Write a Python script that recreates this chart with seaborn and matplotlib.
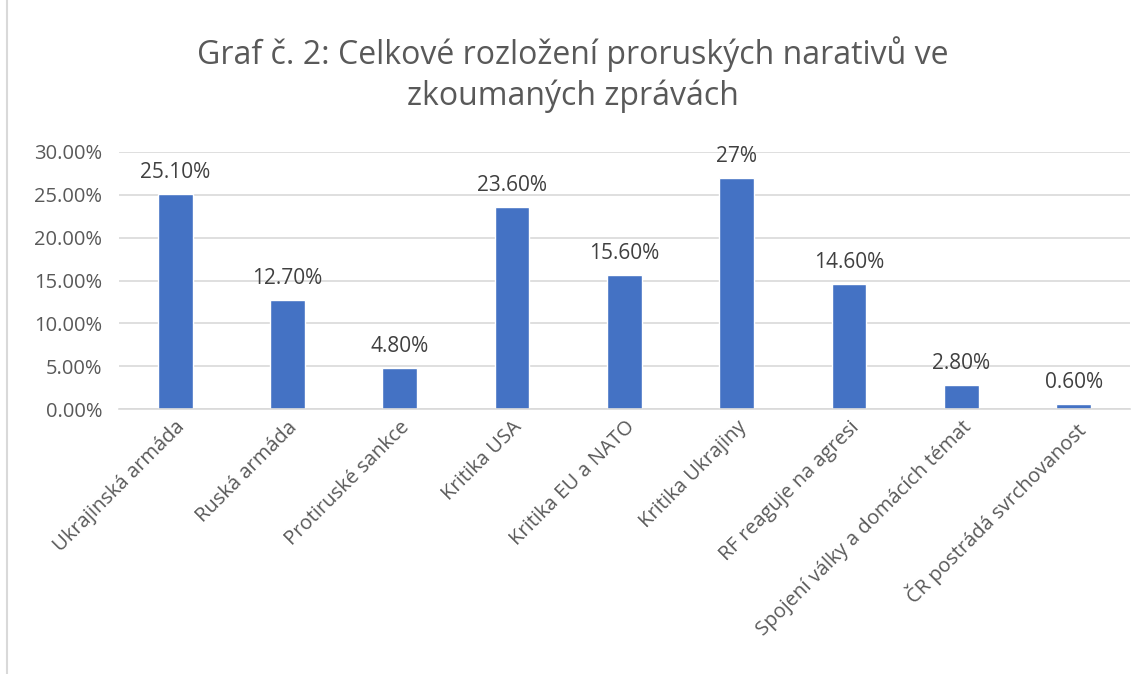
import matplotlib
matplotlib.use("Agg")
import matplotlib.pyplot as plt
import matplotlib.ticker as mtick
import seaborn as sns
import pandas as pd

# -------------------------
# Data
# -------------------------
categories = [
    "Ukrajinská armáda",
    "Ruská armáda",
    "Protiruské sankce",
    "Kritika USA",
    "Kritika EU a NATO",
    "Kritika Ukrajiny",
    "RF reaguje na agresi",
    "Spojení války a domácích témat",
    "ČR postrádá svrchovanost",
]
shares = [0.251, 0.127, 0.048, 0.236, 0.156, 0.27, 0.146, 0.028, 0.006]
value_labels = ["25.10%", "12.70%", "4.80%", "23.60%", "15.60%", "27%", "14.60%", "2.80%", "0.60%"]

df = pd.DataFrame({"category": categories, "share": shares})

# -------------------------
# Plot
# -------------------------
sns.set_theme(style="white")
plt.rcParams["font.family"] = ["Open Sans", "DejaVu Sans"]

fig = plt.figure(figsize=(11.46, 6.74), dpi=100)
ax = fig.add_axes([0.1038, 0.393, 0.882, 0.3815])

sns.barplot(data=df, x="category", y="share", color="#4472C4", width=0.31,
            saturation=1, ax=ax)

ax.set_ylim(0, 0.30)
ax.yaxis.set_major_locator(mtick.MultipleLocator(0.05))
ax.yaxis.set_major_formatter(mtick.PercentFormatter(1.0, decimals=2))
ax.grid(axis="y", color="#D9D9D9", linewidth=1.2)
ax.set_axisbelow(True)
for s in ["top", "right", "left"]:
    ax.spines[s].set_visible(False)
ax.spines["bottom"].set_color("#D9D9D9")
ax.spines["bottom"].set_linewidth(1.2)

ax.set_xlabel("")
ax.set_ylabel("")
ax.tick_params(axis="y", labelsize=14.5, colors="#595959", length=0, pad=12)
ax.tick_params(axis="x", labelsize=14.5, colors="#595959", length=0, pad=6)
plt.setp(ax.get_xticklabels(), rotation=45, ha="right", rotation_mode="anchor")

for i, (v, lab) in enumerate(zip(shares, value_labels)):
    ax.annotate(lab, (i, v), xytext=(0, 8), textcoords="offset points",
                ha="center", va="bottom", fontsize=15, color="#404040")

fig.text(0.5, 0.889, "Graf č. 2: Celkové rozložení proruských narativů ve\nzkoumaných zprávách",
         ha="center", va="center", fontsize=23, color="#595959", linespacing=1.3)

# left chart border
fig.add_artist(plt.Line2D([0.0065, 0.0065], [0, 1], color="#D9D9D9", linewidth=1.5))

fig.savefig("out.png", dpi=100, facecolor="white")
